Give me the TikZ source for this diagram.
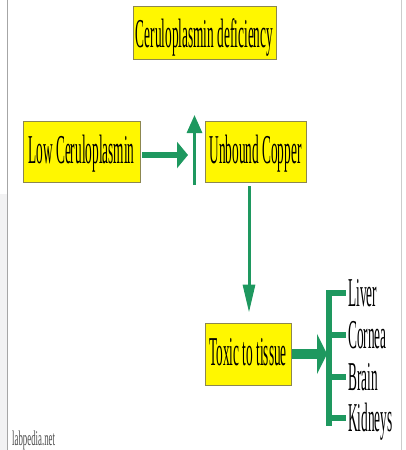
\documentclass[tikz,border=0pt]{standalone}
\usepackage{fontspec}
\setmainfont{Liberation Serif}
\usetikzlibrary{arrows.meta}
\definecolor{boxyellow}{RGB}{255,247,0}
\definecolor{boxedge}{RGB}{140,135,80}
\definecolor{arrowgreen}{RGB}{30,152,95}
\newcommand{\sq}[1]{\scalebox{0.325}[1]{\fontsize{41}{42}\selectfont #1}}

\begin{document}
\begin{tikzpicture}[x=1pt,y=-1pt,
	box/.style={draw=boxedge,line width=0.9pt,fill=boxyellow,inner sep=0pt,text height=28pt,text depth=5pt},
	organ/.style={anchor=base west,inner sep=0pt},
	tick/.style={arrowgreen,line width=6pt}]
	\useasboundingbox (0,0) rectangle (406,450);
	% page edges
	\fill[blue!4!gray!10] (0,194) rectangle (7,450);
	\draw[gray!70,line width=0.8pt] (7,0) -- (7,450);
	\draw[gray!40,line width=0.8pt] (401.5,0) -- (401.5,450);
	% boxes
	\node[box,minimum width=143pt,minimum height=53pt,text height=31pt,text depth=2pt] (title) at (204.5,32.5) {\sq{Ceruloplasmin deficiency}};
	\node[box,minimum width=117pt,minimum height=61pt] (low) at (81.5,151.5) {\sq{Low Ceruloplasmin}};
	\node[box,minimum width=101pt,minimum height=61pt] (unbound) at (255.5,151.5) {\sq{Unbound Copper}};
	\node[box,minimum width=86pt,minimum height=62pt] (toxic) at (248,354) {\sq{Toxic to tissue}};
	% low -> up arrow
	\coordinate (lowhead) at (188,155);
	\coordinate (upfoot) at (194.5,185);
	\coordinate (uptip) at (194.5,115);
	\draw[arrowgreen,line width=6pt,-{Triangle[length=11pt,width=26pt]}] ([xshift=2pt]low.east |- lowhead) -- (lowhead);
	\draw[arrowgreen,line width=3pt,-{Triangle[length=18pt,width=15pt]}] (upfoot) -- (uptip);
	% unbound -> toxic
	\draw[arrowgreen,line width=3pt,-{Triangle[length=28pt,width=12pt]}] ([xshift=-6.5pt,yshift=-4pt]unbound.south) -- ([xshift=1pt,yshift=10pt]toxic.north);
	% bracket
	\coordinate (bartop) at (329,290);
	\coordinate (barbot) at (329,426);
	\draw[tick] (bartop) -- (barbot);
	\draw[arrowgreen,line width=10pt,-{Triangle[length=10pt,width=40pt]}] ([xshift=1pt]toxic.east) -- ([xshift=-2pt]toxic.east -| bartop);
	\foreach \name/\txt/\y in {liver/Liver/293,cornea/Cornea/335,brain/Brain/377,kidneys/Kidneys/418}{
		\coordinate (\name-tick) at (329,\y);
		\node[organ] (\name) at (348,\y+13.5) {\sq{\txt}};
		\draw[tick] (\name-tick) -- ([xshift=-2pt]\name-tick -| \name.west);
	}
	% watermark
	\node[anchor=base west,inner sep=0pt,text=black!70] (mark) at (12,445) {\scalebox{0.42}[1]{\fontsize{21}{22}\selectfont labpedia.net}};
\end{tikzpicture}
\end{document}
